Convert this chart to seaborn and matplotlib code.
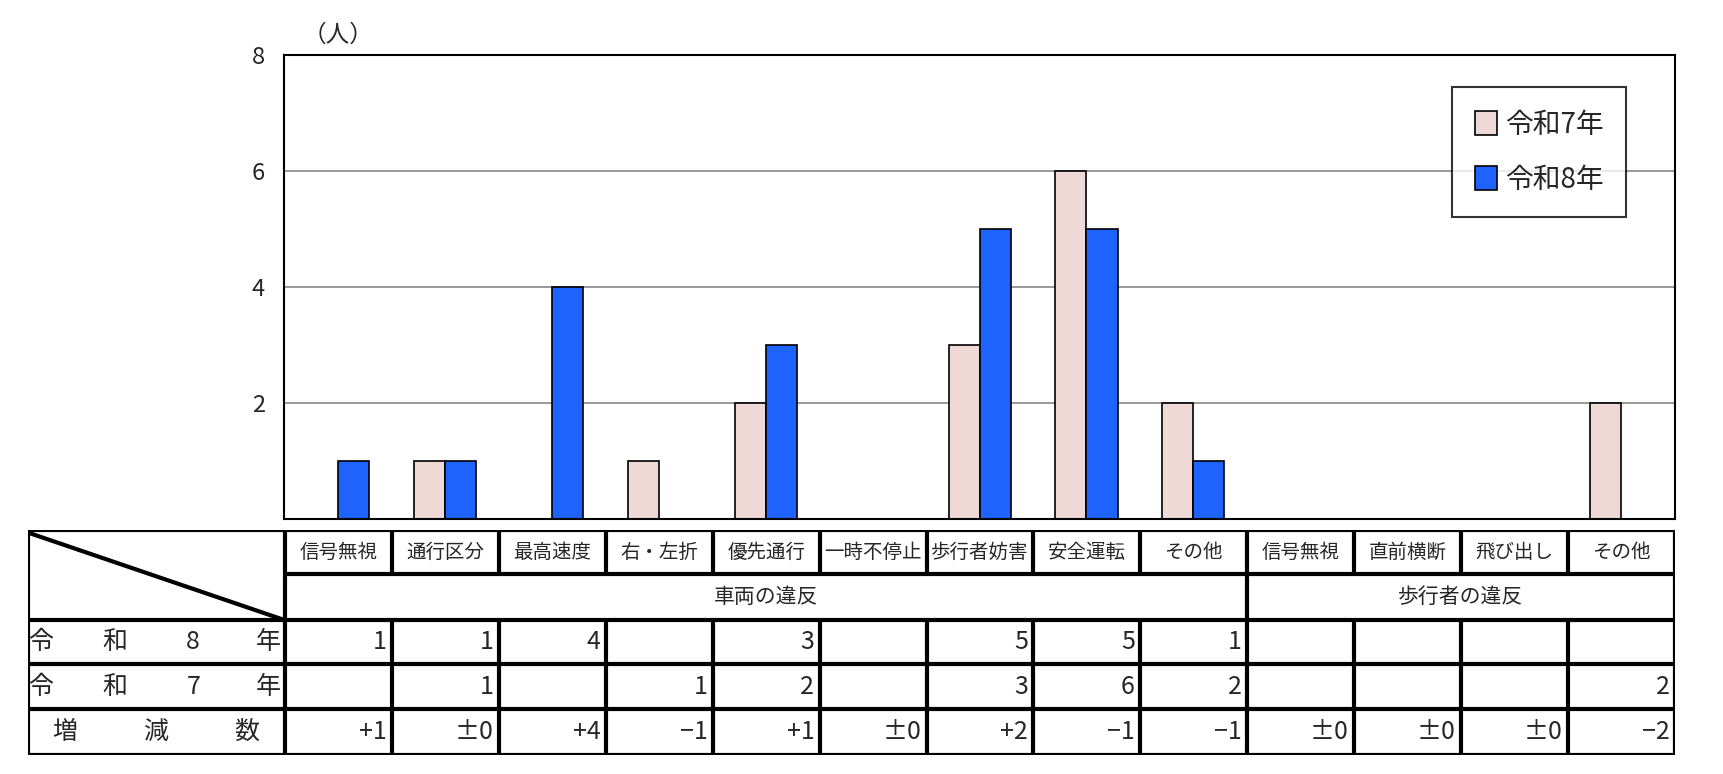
import matplotlib.pyplot as plt
import seaborn as sns
import pandas as pd

categories = ['信号無視', '通行区分', '最高速度', '右・左折', '優先通行', '一時不停止',
              '歩行者妨害', '安全運転', 'その他', '信号無視', '直前横断', '飛び出し', 'その他']
groups = [('車両の違反', 9), ('歩行者の違反', 4)]
r8 = [1, 1, 4, 0, 3, 0, 5, 5, 1, 0, 0, 0, 0]
r7 = [0, 1, 0, 1, 2, 0, 3, 6, 2, 0, 0, 0, 2]
series = ['令和7年', '令和8年']
colors = ['#EED9D6', '#1F63FF']

sns.set_theme(style='white')
plt.rcParams['font.family'] = ['Noto Sans CJK JP', 'DejaVu Sans']

rows = []
for i in range(len(categories)):
    if r7[i]:
        rows.append({'x': str(i), 's': series[0], 'v': r7[i]})
    if r8[i]:
        rows.append({'x': str(i), 's': series[1], 'v': r8[i]})
df = pd.DataFrame(rows)

fig = plt.figure(figsize=(17.23, 7.74), dpi=100)
ax = fig.add_axes([0.165, 0.330, 0.807, 0.599])
sns.barplot(data=df, x='x', y='v', hue='s', order=[str(i) for i in range(len(categories))],
            hue_order=series, palette=colors, width=0.58, edgecolor='black', linewidth=1.2,
            saturation=1, ax=ax)
ax.set_ylim(0, 8)
ax.set_xlim(-0.5, len(categories) - 0.5)
ax.set_yticks([2, 4, 6, 8])
ax.tick_params(axis='y', labelsize=17, length=0, pad=14)
ax.set_xticks([])
ax.set_xlabel('')
ax.set_ylabel('')
ax.grid(axis='y', color='#888888', linewidth=1.2)
ax.set_axisbelow(True)
for sp in ax.spines.values():
    sp.set_color('black')
    sp.set_linewidth(1.5)
ax.text(0.0, 8.15, '（人）', fontsize=17, ha='center', va='bottom')
leg = ax.legend(loc='upper right', bbox_to_anchor=(0.975, 0.96), fontsize=20, frameon=True,
                fancybox=False, edgecolor='black', handlelength=0.8, handleheight=0.9,
                labelspacing=0.9, borderpad=0.8, handletextpad=0.3)
leg.get_frame().set_linewidth(1.5)

# table below
n = len(categories)
lab_w = 2.41
tx = fig.add_axes([0.016, 0.024, 0.956, 0.291])
tx.set_xlim(-lab_w, n)
tx.set_ylim(5, 0)
tx.axis('off')
ys = [0, 0.98, 2.0, 2.98, 3.96, 5]
lw = 3
for y in ys:
    if y == ys[1]:
        tx.plot([0, n], [y, y], color='black', lw=lw)
    else:
        tx.plot([-lab_w, n], [y, y], color='black', lw=lw)
tx.plot([-lab_w, -lab_w], [0, 5], color='black', lw=lw)
tx.plot([0, 0], [0, 5], color='black', lw=lw)
tx.plot([n, n], [0, 5], color='black', lw=lw)
for i in range(1, n):
    if i == 9:
        tx.plot([i, i], [0, 5], color='black', lw=lw)
    else:
        tx.plot([i, i], [0, ys[1]], color='black', lw=lw)
        tx.plot([i, i], [ys[2], 5], color='black', lw=lw)
tx.plot([-lab_w, 0], [0.05, 2.0], color='black', lw=lw)
for i, c in enumerate(categories):
    tx.text(i + 0.5, ys[0] + 0.49, c, ha='center', va='center', fontsize=14)
start = 0
for name, cnt in groups:
    tx.text(start + cnt / 2, 1.49, name, ha='center', va='center', fontsize=15)
    start += cnt


def fmt(d):
    if d == 0:
        return '±0'
    return f'+{d}' if d > 0 else f'−{-d}'


row_labels = [['令', '和', '8', '年'], ['令', '和', '7', '年'], ['増', '減', '数']]
for r, chars in enumerate(row_labels):
    yc = (ys[r + 2] + ys[r + 3]) / 2
    if len(chars) == 4:
        xs = [-lab_w + 0.12, -lab_w + 0.82, -lab_w + 1.55, -lab_w + 2.25]
    else:
        xs = [-lab_w + 0.35, -lab_w + 1.2, -lab_w + 2.05]
    for x, ch in zip(xs, chars):
        tx.text(x, yc, ch, ha='center', va='center', fontsize=18)
for i in range(n):
    for r, val in enumerate([r8[i], r7[i]]):
        if val:
            tx.text(i + 0.95, (ys[r + 2] + ys[r + 3]) / 2, str(val), ha='right', va='center', fontsize=18)
    tx.text(i + 0.95, (ys[4] + ys[5]) / 2, fmt(r8[i] - r7[i]), ha='right', va='center', fontsize=18)

fig.savefig('out.png', dpi=100)
